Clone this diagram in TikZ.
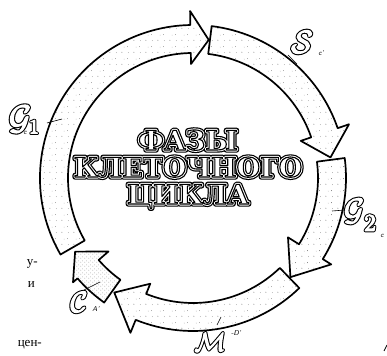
\documentclass[tikz,border=0pt]{standalone}
\usepackage{fontspec}
\setmainfont{Liberation Serif}
\newfontfamily\titlefont{DejaVu Serif}
\usetikzlibrary{patterns}
\pgfdeclarepatternformonly{sparsedots}{\pgfqpoint{0pt}{0pt}}{\pgfqpoint{12pt}{12pt}}{\pgfqpoint{12pt}{12pt}}{%
 \pgfpathcircle{\pgfqpoint{2pt}{3pt}}{0.5pt}
 \pgfpathcircle{\pgfqpoint{8pt}{9pt}}{0.45pt}
 \pgfpathcircle{\pgfqpoint{9pt}{2.5pt}}{0.4pt}
 \pgfpathcircle{\pgfqpoint{4.5pt}{8.5pt}}{0.35pt}
 \pgfusepath{fill}}
\pgfdeclarepatternformonly{densedots}{\pgfqpoint{0pt}{0pt}}{\pgfqpoint{4pt}{4pt}}{\pgfqpoint{4pt}{4pt}}{%
 \pgfpathcircle{\pgfqpoint{1pt}{1pt}}{0.45pt}
 \pgfpathcircle{\pgfqpoint{3pt}{2.6pt}}{0.4pt}
 \pgfusepath{fill}}
\newcommand\cycarrow[5]{(#1:125pt) -- (#1:153pt) arc[start angle=#1, end angle=#2, radius=153pt] -- (#2:#4pt) -- (#3:139pt) -- (#2:#5pt) -- (#2:125pt) arc[start angle=#2, end angle=#1, radius=125pt] -- cycle}
% text with fill colour #1, stroke colour #2 (rgb), stroke width #3 (PDF text render mode 2)
\newcommand\strkc[4]{{\color{#1}\special{pdf:literal direct #2 RG 2 Tr #3 w 1 j}#4\special{pdf:literal direct 0 Tr}}}
% double-outlined hollow title letters
\newcommand\titletext[1]{\leavevmode\rlap{\strkc{black}{0 0 0}{5.4}{#1}}\rlap{\strkc{white}{1 1 1}{3.0}{#1}}\strkc{white}{0 0 0}{1.1}{#1}}
% bubble (hollow) label letters: scale, outer width, inner width, content
\newcommand\bubble[4]{\leavevmode\rlap{\scalebox{#1}{\strkc{black}{0 0 0}{#2}{$#4$}}}\scalebox{#1}{\strkc{white}{1 1 1}{#3}{$#4$}}}
\begin{document}
\begin{tikzpicture}[
  band/.style={draw=black, line width=1.7pt, line join=round, pattern=sparsedots, pattern color=black!55},
  denseband/.style={band, pattern=densedots, pattern color=black!60},
  title/.style={inner sep=0pt, anchor=base, font=\titlefont\bfseries\fontsize{27}{27}\selectfont},
  tiny/.style={inner sep=0pt, font=\sffamily\itshape\fontsize{7}{7}\selectfont},
  lab/.style={inner sep=0pt},
  leader/.style={line width=0.6pt},
  margintext/.style={inner sep=0pt, anchor=base east, font=\fontsize{13}{13}\selectfont}
]
\useasboundingbox (0pt,0pt) rectangle (387pt,355pt);
\begin{scope}[shift={(193pt,177pt)}]
  \draw[band] \cycarrow{210}{91}{83.5}{167}{114};
  \draw[band] \cycarrow{83}{19}{8.5}{165}{114};
  \draw[band] \cycarrow{7.5}{-32}{-45.5}{163}{112};
  \draw[band] \cycarrow{-46}{-112}{-124.5}{167}{114};
  \draw[denseband] \cycarrow{234.5}{221}{212}{159}{112};
\end{scope}
% title
\node[title] (t1) at (188pt,205pt) {\titletext{ФАЗЫ}};
\node[title] (t2) at (188pt,178pt) {\titletext{КЛЕТОЧНОГО}};
\node[title] (t3) at (188pt,151pt) {\titletext{ЦИКЛА}};
% labels
\node[lab] (g1) at (20pt,236pt) {\bubble{3.4}{1.0}{0.35}{\mathcal{G}}};
\node[lab] (g1n) at (34pt,228pt) {\bubble{2.0}{1.5}{0.5}{1}};
\node[tiny] (g1c) at (25pt,222pt) {c};
\coordinate (g1a) at (47pt,232pt);
\coordinate (g1b) at (62pt,236pt);
\draw[leader] (g1a) -- (g1b);
\node[lab] (s) at (302pt,313pt) {\bubble{3.2}{1.05}{0.35}{\mathcal{S}}};
\node[tiny] (sc) at (321pt,302pt) {c'};
\coordinate (sa) at (288pt,300pt);
\coordinate (sb) at (297pt,291pt);
\draw[leader] (sa) -- (sb);
\node[lab] (g2) at (354pt,144pt) {\bubble{3.1}{1.05}{0.35}{\mathcal{G}}};
\node[lab] (g2n) at (370pt,132pt) {\bubble{2.4}{1.3}{0.45}{2}};
\node[tiny] (g2c) at (382pt,119pt) {c};
\coordinate (g2a) at (332pt,144pt);
\coordinate (g2b) at (345pt,145pt);
\draw[leader] (g2a) -- (g2b);
\node[lab] (c) at (79pt,53pt) {\bubble{2.9}{1.1}{0.38}{\mathcal{C}}};
\node[tiny] (ca) at (96pt,46pt) {A'};
\coordinate (cla) at (84pt,65pt);
\coordinate (clb) at (100pt,73pt);
\draw[leader] (cla) -- (clb);
\node[lab] (m) at (210pt,13pt) {\bubble{2.6}{1.2}{0.4}{\mathcal{M}}};
\node[tiny] (md) at (236pt,22pt) {-D'};
\coordinate (ma) at (217pt,30pt);
\coordinate (mb) at (221pt,38pt);
\draw[leader] (ma) -- (mb);
% margin text fragments
\node[margintext] (w1) at (38pt,89pt) {у-};
\node[margintext] (w2) at (35pt,67pt) {и};
\node[margintext] (w3) at (42pt,9pt) {цен-};
\coordinate (fa) at (384pt,4pt);
\coordinate (fb) at (387pt,10pt);
\draw[line width=0.8pt] (fa) -- (fb);
\end{tikzpicture}
\end{document}
